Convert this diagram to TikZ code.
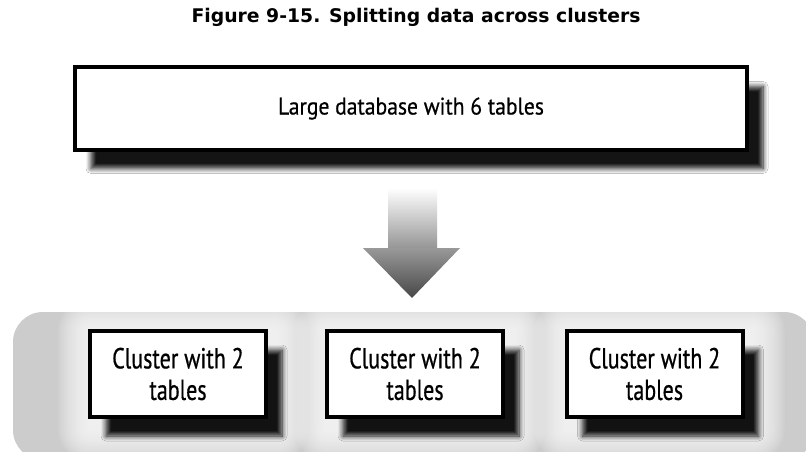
\documentclass[tikz,border=0pt]{standalone}
\usepackage{fontspec}
\setmainfont{PT Sans}
\newfontfamily\titlefont{DejaVu Sans}
\newfontfamily\boxfont[FakeStretch=0.90, FakeBold=0.6]{PT Sans}
\newfontfamily\clusterfont[FakeStretch=0.76, FakeBold=0.6]{PT Sans}
\usetikzlibrary{shadows.blur}

\definecolor{trayfill}{RGB}{204,204,204}

\tikzset{
  framed/.style={draw=black, line width=4pt, fill=white, inner sep=0pt},
  dropshade/.style={blur shadow={shadow xshift=16pt, shadow yshift=-19pt,
      shadow blur radius=5pt, shadow blur steps=8, shadow opacity=92}},
  bigbox/.style={framed, dropshade, minimum width=672pt, minimum height=82pt,
      font=\boxfont\fontsize{24}{28}\selectfont},
  clusterbox/.style={framed, dropshade, minimum width=176pt, minimum height=86pt,
      align=center, font=\clusterfont\fontsize{29}{31.5}\selectfont},
  glow/.style={fill=white, fill opacity=0.09},
}

\begin{document}
\begin{tikzpicture}[x=1pt, y=-1pt]
\useasboundingbox (0,0) rectangle (806,452);
\fill[white] (0,0) rectangle (806,452);

% caption
\node[anchor=base, font=\titlefont\bfseries\fontsize{18.8}{22}\selectfont] (title) at (416,23)
  {Figure 9-15. Splitting data across clusters};

% source database
\node[bigbox] (db) at (411,108.5) {Large database with 6 tables};

% grey tray holding the clusters, lit up softly around each cluster
\begin{scope}
  \clip (0,0) rectangle (806,452);
  \fill[trayfill, rounded corners=30pt] (13,312) rectangle (814,460);
  \clip[rounded corners=30pt] (13,312) rectangle (814,460);
  \foreach \cx in {178,415,654.5}{
    \foreach \k in {1,...,16}{
      \pgfmathsetmacro{\m}{2*\k}
      \fill[glow, rounded corners=\m pt] (\cx-88-\m,331-\m) rectangle (\cx+98+\m,429+\m);
    }
  }
\end{scope}

% block arrow from the database down to the tray
\coordinate (tip) at (412,298);
\shade[top color=white, bottom color=black!42]
  (388,188) rectangle (437,249);
\shade[top color=black!40, bottom color=black!72]
  (363,248) -- (460,248) -- (tip) -- cycle;

% the three clusters
\node[clusterbox] (c1) at (178,374)   {Cluster with 2\\tables};
\node[clusterbox] (c2) at (415,374)   {Cluster with 2\\tables};
\node[clusterbox] (c3) at (654.5,374) {Cluster with 2\\tables};
\end{tikzpicture}
\end{document}
